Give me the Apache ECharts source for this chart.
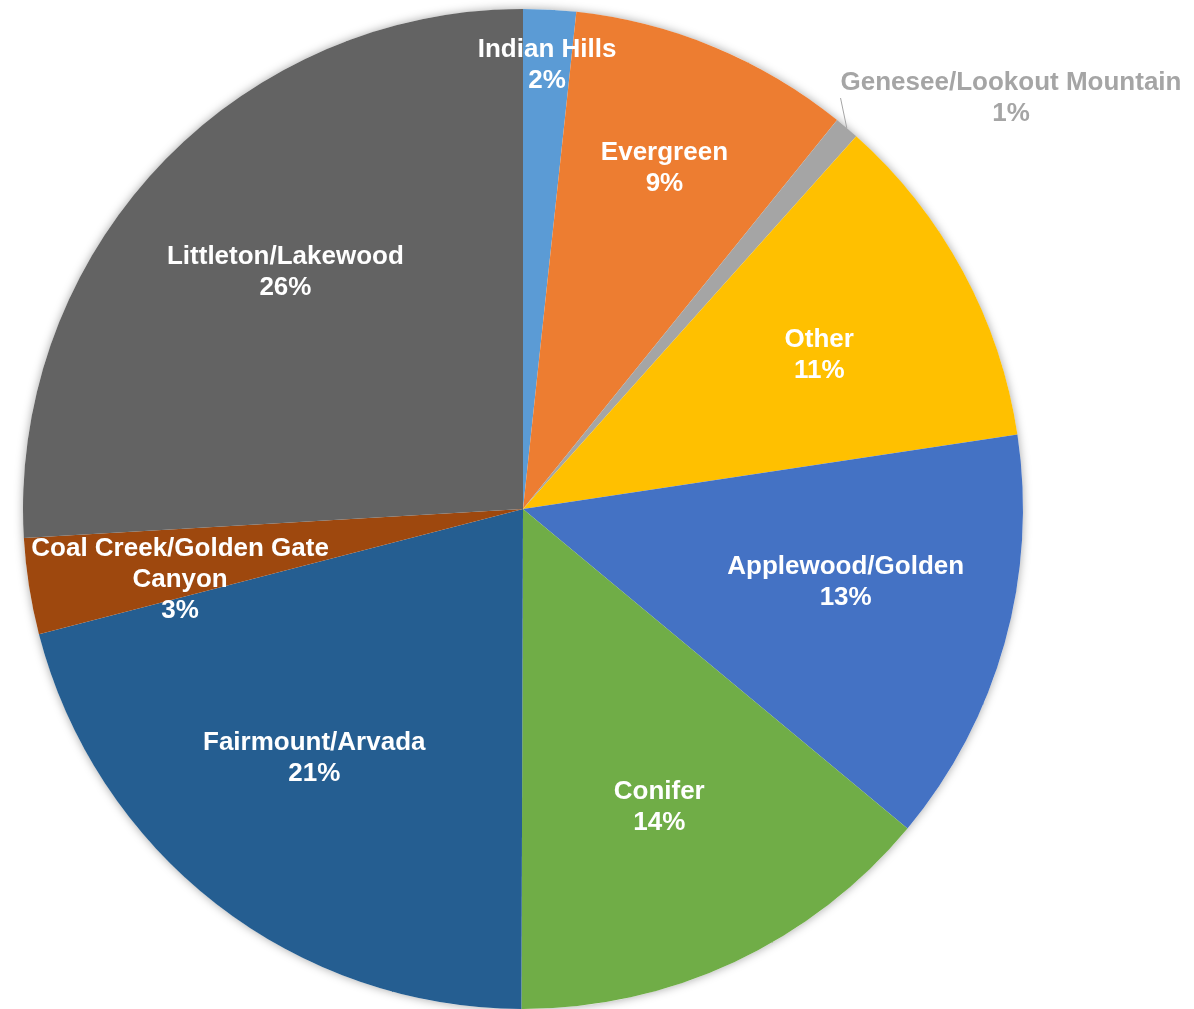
<html>
    <head>
        <meta charset="utf-8">
        <script src="https://cdn.jsdelivr.net/npm/echarts@6/dist/echarts.min.js" type="text/javascript" charset="utf-8"></script>
    </head>
    <body style="margin:0;background:#fff;">
        <style>
            .chart {
                height: 1009px;
                width: 1194px;
            }
        </style>

        <div id="main" class="chart"></div>
        <script>
            // slices, clockwise from 12 o'clock
            var regions = ['Indian Hills', 'Evergreen', 'Genesee/Lookout Mountain', 'Other', 'Applewood/Golden',
                'Conifer', 'Fairmount/Arvada', 'Coal Creek/Golden Gate Canyon', 'Littleton/Lakewood'];
            var shares = [1.7, 9.1, 0.8, 11.0, 13.4, 14.0, 20.9, 3.1, 25.9];
            var colors = ['#5B9BD5', '#ED7D31', '#A5A5A5', '#FFC000', '#4472C4',
                '#70AD47', '#255E91', '#9E480E', '#636363'];

            // how far out each inside label sits (fraction of radius), plus a small pixel nudge
            var labelRadius = [0.89, 0.74, null, 0.67, 0.66, 0.65, 0.65, 0.70, 0.67];
            var labelNudge = [[0, 6], [-2, 5], [0, 0], [-2, 7], [1, -16], [-3, 0], [-7, -10], [7, 16], [9, -4]];

            var CX = 523, CY = 509, R = 500;

            var chart = echarts.init(document.getElementById('main'));

            var data = regions.map(function (name, i) {
                var item = {value: shares[i], name: name, itemStyle: {color: colors[i]}};
                if (labelRadius[i] == null) {
                    item.label = {position: 'outside', color: '#A5A5A5', align: 'center'};
                    item.labelLine = {show: true, length: 30, length2: 0, lineStyle: {color: '#A5A5A5', width: 1}};
                }
                return item;
            });

            chart.setOption({
                series: [
                    {
                        // shadow under the pie
                        type: 'pie',
                        silent: true,
                        radius: R,
                        center: [CX, CY],
                        z: 1,
                        label: {show: false},
                        data: [{value: 1, itemStyle: {color: '#fff', shadowBlur: 10, shadowColor: 'rgba(0,0,0,0.35)'}}]
                    },
                    {
                        name: 'Region',
                        type: 'pie',
                        radius: R,
                        center: [CX, CY],
                        startAngle: 90,
                        z: 2,
                        animation: false,
                        avoidLabelOverlap: false,
                        itemStyle: {borderWidth: 0},
                        label: {
                            show: true,
                            position: 'inside',
                            color: '#fff',
                            fontFamily: 'Liberation Sans, Arial, sans-serif',
                            fontWeight: 'bold',
                            fontSize: 26,
                            lineHeight: 31,
                            formatter: function (p) {
                                var name = p.name;
                                if (name.length > 24) {
                                    var cut = name.lastIndexOf(' ');
                                    name = name.slice(0, cut) + '\n' + name.slice(cut + 1);
                                }
                                return name + '\n' + Math.round(p.percent) + '%';
                            }
                        },
                        labelLayout: function (params) {
                            var i = params.dataIndex;
                            var k = labelRadius[i];
                            if (k == null) {
                                return {x: 1011, y: 98, align: 'center', verticalAlign: 'middle'};
                            }
                            var rect = params.labelRect;
                            var x = rect.x + rect.width / 2;
                            var y = rect.y + rect.height / 2;
                            var s = k / 0.5;
                            return {
                                x: CX + (x - CX) * s + labelNudge[i][0],
                                y: CY + (y - CY) * s + labelNudge[i][1]
                            };
                        },
                        data: data
                    }
                ]
            });

            window.onresize = chart.resize;
        </script>
    </body>
</html>
